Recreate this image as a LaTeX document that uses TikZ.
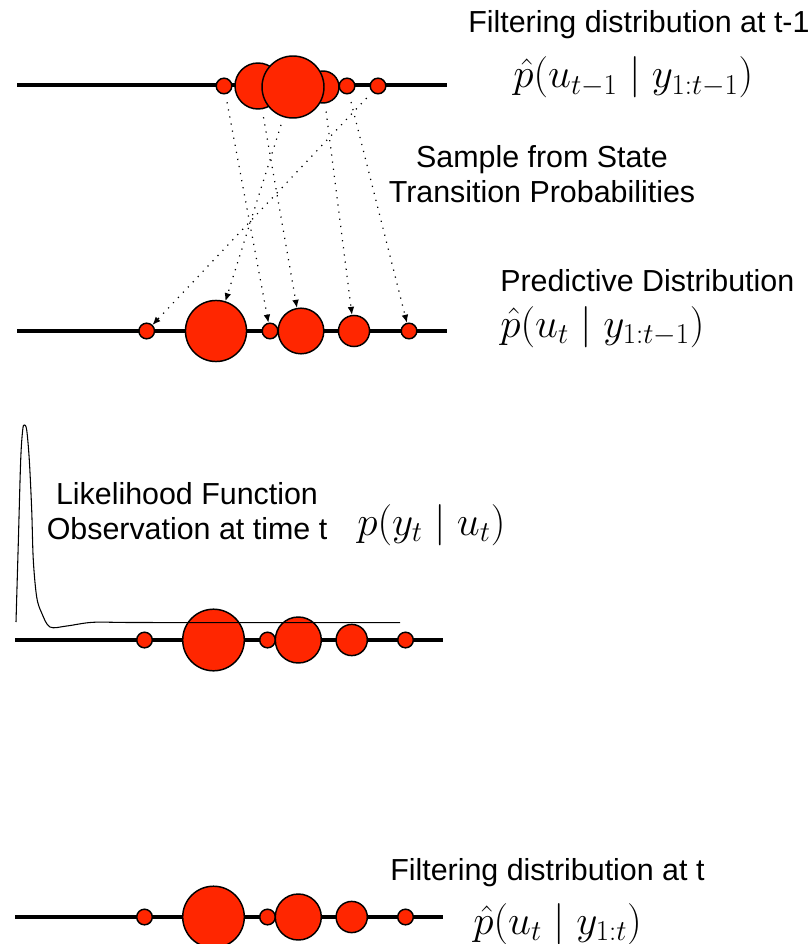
\RequirePackage{fix-cm}
\documentclass[tikz,border=0pt]{standalone}
\usepackage[no-math]{fontspec}
\setmainfont{Liberation Sans}
\usetikzlibrary{arrows.meta}
\definecolor{particlered}{RGB}{255,38,0}
\tikzset{
  particle/.style={circle, draw, fill=particlered, line width=1.1pt, inner sep=0pt},
  small/.style={particle, minimum size=11.7pt},
  axisline/.style={line width=2.3pt},
  move/.style={line width=0.9pt, dash pattern=on 0.9pt off 4.5pt, -{Latex[length=6pt,width=5pt]}, shorten <=6pt},
  caption/.style={inner sep=0pt, font=\fontsize{22.8}{26.3}\selectfont},
  formula/.style={inner sep=0pt, font=\fontsize{30.9}{37}\selectfont},
}
\begin{document}
\begin{tikzpicture}[x=0.75pt, y=-0.75pt]
        \useasboundingbox (0,0) rectangle (810,944);

        % Axes
        \coordinate (al) at (17,85);   \coordinate (ar) at (447,85);
        \coordinate (bl) at (17,331);  \coordinate (br) at (447,331);
        \coordinate (cl) at (15,640);  \coordinate (cr) at (443,640);
        \coordinate (dl) at (15,917);  \coordinate (dr) at (443,917);
        \draw[axisline] (al) -- (ar);
        \draw[axisline] (bl) -- (br);
        \draw[axisline] (cl) -- (cr);
        \draw[axisline] (dl) -- (dr);

        % Filtering distribution at t-1
        \node (a1) at (224,86) [small] {};
        \node (a2) at (258,86) [particle, minimum size=34.5pt] {};
        \node (a4) at (323,87) [particle, minimum size=24pt] {};
        \node (a3) at (293,87) [particle, minimum size=46.5pt] {};
        \node (a5) at (347,86) [small] {};
        \node (a6) at (378,86) [small] {};

        % Predictive distribution
        \node (b1) at (146.7,331) [small] {};
        \node (b2) at (216,331) [particle, minimum size=45.8pt] {};
        \node (b3) at (270,331) [small] {};
        \node (b4) at (301,331) [particle, minimum size=34.2pt] {};
        \node (b5) at (354,331) [particle, minimum size=23.3pt] {};
        \node (b6) at (409,331) [small] {};

        % Likelihood weighting
        \node (c1) at (144.5,640) [small] {};
        \node (c2) at (213.5,640) [particle, minimum size=46.2pt] {};
        \node (c3) at (267.5,640) [small] {};
        \node (c4) at (298.3,640) [particle, minimum size=34.5pt] {};
        \node (c5) at (351.7,640) [particle, minimum size=23.4pt] {};
        \node (c6) at (405.5,640) [small] {};

        % Filtering distribution at t
        \node (d1) at (144.5,917) [small] {};
        \node (d2) at (213.5,917) [particle, minimum size=46.2pt] {};
        \node (d3) at (267.5,917) [small] {};
        \node (d4) at (298.3,917) [particle, minimum size=34.5pt] {};
        \node (d5) at (351.7,917) [particle, minimum size=23.4pt] {};
        \node (d6) at (405.5,917) [small] {};

        % Transitions
        \draw[move] (a1) -- (b3);
        \draw[move] (a2) -- (b4);
        \draw[move] (a3) -- (b2);
        \draw[move] (a4) -- (b5);
        \draw[move] (a5) -- (b6);
        \draw[move] (a6) -- (b1);

        % Likelihood curve
        \draw[line width=0.8pt] plot[smooth, tension=0.55] coordinates {
          (16,622) (18.3,543) (20.7,460) (22.7,430) (24.3,425) (26.7,430)
          (29.3,460) (31.7,510) (33.3,560) (36.7,597) (41.7,613) (50,627)
          (66.7,626) (93,622.3) (133,622.5) (250,622.6) (400,622.7)};

        % Labels
        \node (tprev) at (468,33) [caption, anchor=base west] {Filtering distribution at t-1};
        \node (fprev) at (513,88) [formula, anchor=base west] {$\hat{p}(u_{t-1} \mid y_{1:t-1})$};
        \node (tsample) at (542,145) [caption, anchor=north, align=center] {Sample from State\\Transition Probabilities};
        \node (tpred) at (500,292) [caption, anchor=base west] {Predictive Distribution};
        \node (fpred) at (500,337) [formula, anchor=base west] {$\hat{p}(u_t \mid y_{1:t-1})$};
        \node (tlik) at (187,482) [caption, anchor=north, align=center] {Likelihood Function\\Observation at time t};
        \node (flik) at (357,535) [formula, anchor=base west] {$p(y_t \mid u_t)$};
        \node (tfilt) at (390,880) [caption, anchor=base west] {Filtering distribution at t};
        \node (ffilt) at (473,934) [formula, anchor=base west] {$\hat{p}(u_t \mid y_{1:t})$};
\end{tikzpicture}
\end{document}
